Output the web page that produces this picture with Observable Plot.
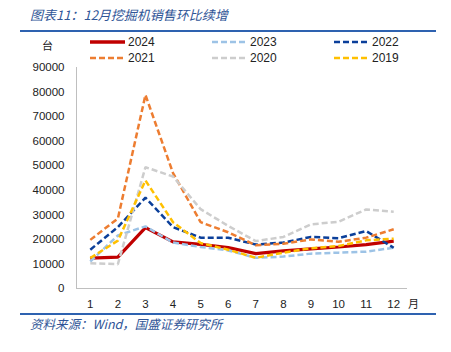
<!DOCTYPE html>
<html>
<head>
<meta charset="utf-8">
<script src="https://cdn.jsdelivr.net/npm/d3@7"></script>
<script src="https://cdn.jsdelivr.net/npm/@observablehq/plot@0.6"></script>
<style>
  body { margin: 0; background: #fff; }
  #wrap { position: relative; width: 451px; height: 352px; overflow: hidden; font-family: "Liberation Sans", Arial, sans-serif; }
  #wrap > * { position: absolute; }
  .cjk { font-family: "Noto Sans CJK SC", sans-serif; font-style: italic; color: #2F5597; white-space: nowrap; }
</style>
</head>
<body>
<div id="wrap"></div>
<script>
const titleText = "图表11：12月挖掘机销售环比续增";
const sourceText = "资料来源：Wind，国盛证券研究所";
const yUnit = "台";
const xUnit = "月";

const months = [1, 2, 3, 4, 5, 6, 7, 8, 9, 10, 11, 12];
const yTicks = [0, 10000, 20000, 30000, 40000, 50000, 60000, 70000, 80000, 90000];

const seriesNames = ["2024", "2023", "2022", "2021", "2020", "2019"];
const s2024 = [12400, 12800, 24800, 19000, 18000, 16700, 14200, 15300, 16100, 16900, 17900, 19300];
const s2023 = [11000, 21600, 25300, 18700, 16900, 15500, 12500, 13000, 14200, 14600, 15000, 16600];
const s2022 = [15800, 25000, 37000, 25000, 20700, 20700, 17900, 18700, 21000, 20500, 23400, 16600];
const s2021 = [19800, 28500, 78800, 47000, 27000, 22900, 17600, 18200, 20000, 19000, 20700, 24100];
const s2020 = [10300, 9900, 49400, 45600, 32300, 25500, 19300, 21000, 26100, 27200, 32200, 31300];
const s2019 = [12400, 19500, 44000, 27000, 18500, 15800, 12500, 14600, 16400, 17300, 19600, 20300];
const seriesValues = [s2024, s2023, s2022, s2021, s2020, s2019];

const colors = ["#C00000", "#9DC3E6", "#0B3F9A", "#ED7D31", "#CDCDCD", "#FFC000"];
const widths = [3.2, 2.5, 2.5, 2.5, 2.5, 2.5];
const dashes = [null, "6,3", "6,3", "6,3", "6,3", "6,3"];

const rows = [];
seriesNames.forEach((name, i) => {
  months.forEach((m, j) => rows.push({ series: name, month: m, value: seriesValues[i][j] }));
});

const wrap = document.getElementById("wrap");

const marks = [
  Plot.ruleX([0.5], { y1: 0, y2: 90000, stroke: "#BFBFBF", strokeWidth: 1 }),
  Plot.ruleY([0], { x1: 0.5, x2: 12.5, stroke: "#BFBFBF", strokeWidth: 1.2 })
];
seriesNames.forEach((name, i) => {
  marks.push(Plot.line(rows.filter(d => d.series === name), {
    x: "month", y: "value",
    stroke: colors[i], strokeWidth: widths[i],
    strokeDasharray: dashes[i] || undefined,
    strokeLinejoin: "miter", strokeLinecap: "butt", curve: "linear"
  }));
});

const chart = Plot.plot({
  width: 451,
  height: 352,
  marginLeft: 76,
  marginRight: 44,
  marginTop: 67,
  marginBottom: 64,
  style: { fontFamily: "Liberation Sans, Arial, sans-serif", fontSize: "11.5px", color: "#222", background: "transparent" },
  x: { type: "linear", domain: [0.5, 12.5], ticks: months, tickFormat: d => String(d), tickSize: 0, tickPadding: 11, label: null },
  y: { domain: [0, 90000], ticks: yTicks, tickFormat: d => String(d), tickSize: 0, tickPadding: 12, label: null },
  marks
});
chart.style.left = "0px";
chart.style.top = "0px";
wrap.appendChild(chart);

// Title
const title = document.createElement("div");
title.className = "cjk";
title.textContent = titleText;
Object.assign(title.style, { left: "30px", top: "6px", fontSize: "13px", lineHeight: "18px" });
wrap.appendChild(title);

// Top rule
const rule1 = document.createElement("div");
Object.assign(rule1.style, { left: "20px", top: "30px", width: "416px", height: "2px", background: "#2E62B0" });
wrap.appendChild(rule1);

// Bottom rule
const rule2 = document.createElement("div");
Object.assign(rule2.style, { left: "20px", top: "313px", width: "416px", height: "2px", background: "#2E62B0" });
wrap.appendChild(rule2);

// Source
const src = document.createElement("div");
src.className = "cjk";
src.textContent = sourceText;
Object.assign(src.style, { left: "30px", top: "315px", fontSize: "12.5px", lineHeight: "18px" });
wrap.appendChild(src);

// Units
const yu = document.createElement("div");
yu.textContent = yUnit;
Object.assign(yu.style, { left: "42px", top: "37px", fontSize: "11px", lineHeight: "16px", fontFamily: "Noto Sans CJK SC, sans-serif", color: "#222" });
wrap.appendChild(yu);

const xu = document.createElement("div");
xu.textContent = xUnit;
Object.assign(xu.style, { left: "408px", top: "295px", fontSize: "11px", lineHeight: "16px", fontFamily: "Noto Sans CJK SC, sans-serif", color: "#222" });
wrap.appendChild(xu);

// Legend
const legend = d3.create("svg").attr("width", 451).attr("height", 70)
  .style("position", "absolute").style("left", "0px").style("top", "0px");
const colX = [90, 212, 334];
const rowY = [42, 58];
seriesNames.forEach((name, i) => {
  const cx = colX[i % 3], cy = rowY[Math.floor(i / 3)];
  legend.append("line").attr("x1", cx).attr("x2", cx + 35).attr("y1", cy).attr("y2", cy)
    .attr("stroke", colors[i]).attr("stroke-width", i === 0 ? 3.5 : 2.5)
    .attr("stroke-dasharray", dashes[i] || null);
  legend.append("text").attr("x", cx + 38).attr("y", cy).attr("dy", "0.36em")
    .attr("font-size", "12px").attr("font-family", "Liberation Sans, Arial, sans-serif")
    .attr("fill", "#222").text(name);
});
wrap.appendChild(legend.node());
</script>
</body>
</html>
